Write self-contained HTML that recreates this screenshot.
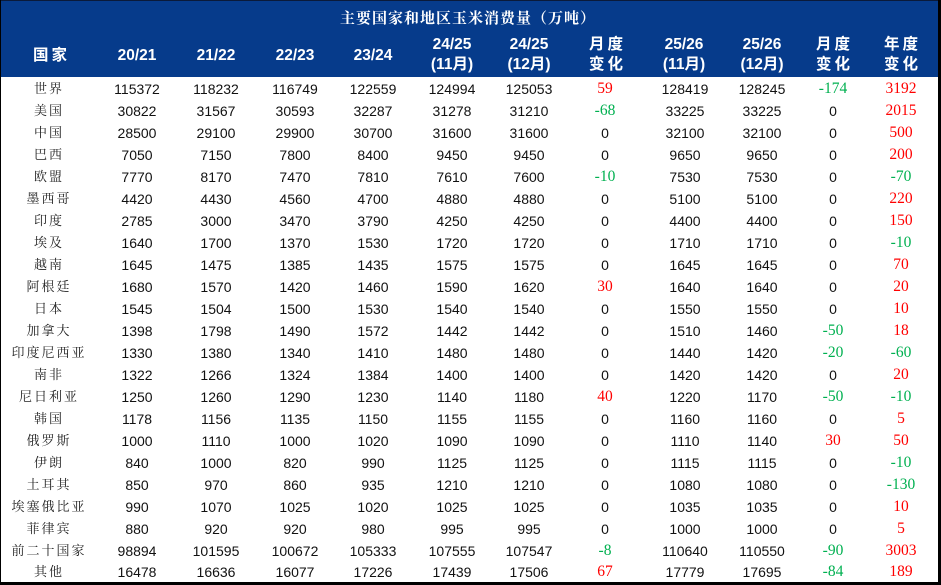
<!DOCTYPE html>
<html>
<head>
<meta charset="utf-8">
<style>
html,body{margin:0;padding:0;background:#fff;}
#wrap{position:relative;width:941px;height:585px;overflow:hidden;background:#fff;}
#hdr{position:absolute;left:0;top:0;width:941px;height:77px;background:#063b8b;}
#bl{position:absolute;left:0;top:0;width:1px;height:585px;background:#000;}
#bt{position:absolute;left:0;top:0;width:941px;height:1px;background:#0a1a3a;}
#br{position:absolute;left:938px;top:0;width:3px;height:585px;background:#000;}
#bb{position:absolute;left:0;top:582px;width:941px;height:3px;background:#000;}
.title{position:absolute;left:0;top:8px;width:936px;text-align:center;color:#fff;font-family:"Liberation Serif","Noto Serif CJK SC",serif;font-weight:bold;font-size:15px;line-height:22px;letter-spacing:1px;}
.h{position:absolute;color:#fff;font-family:"Liberation Sans","Noto Sans CJK SC",sans-serif;font-weight:bold;font-size:15.5px;text-align:center;width:90px;line-height:20px;}
.h1{top:46px;}
.h2{top:35px;}
.hz{letter-spacing:3px;padding-left:3px;box-sizing:border-box;}
.r{position:absolute;left:0;width:941px;height:22px;}
.r span{position:absolute;top:0;width:90px;text-align:center;line-height:22px;font-family:"Liberation Sans",sans-serif;font-size:14px;color:#111;}
.r span.n{font-family:"Liberation Serif","Noto Serif CJK SC",serif;font-size:13px;letter-spacing:2px;padding-left:2px;box-sizing:border-box;color:#222;width:100px;}
.r span.red{color:#ff0000;font-family:"Liberation Serif",serif;font-size:15.5px;}
.r span.grn{color:#00b050;font-family:"Liberation Serif",serif;font-size:15.5px;}
.c0{left:-2px;}
.c1{left:92px;}
.c2{left:171px;}
.c3{left:250px;}
.c4{left:328px;}
.c5{left:407px;}
.c6{left:484px;}
.c7{left:560px;}
.c8{left:640px;}
.c9{left:717px;}
.c10{left:788px;}
.c11{left:856px;}
</style>
</head>
<body>
<div id="wrap">
<div id="hdr"></div>
<div class="title">主要国家和地区玉米消费量（万吨）</div>
<div class="h h1 hz" style="left:5px;">国家</div>
<div class="h h1" style="left:92px;">20/21</div>
<div class="h h1" style="left:171px;">21/22</div>
<div class="h h1" style="left:250px;">22/23</div>
<div class="h h1" style="left:328px;">23/24</div>
<div class="h h2" style="left:407px;">24/25<br>(11月)</div>
<div class="h h2" style="left:484px;">24/25<br>(12月)</div>
<div class="h h2 hz" style="left:561px;">月度<br>变化</div>
<div class="h h2" style="left:639px;">25/26<br>(11月)</div>
<div class="h h2" style="left:717px;">25/26<br>(12月)</div>
<div class="h h2 hz" style="left:788px;">月度<br>变化</div>
<div class="h h2 hz" style="left:856px;">年度<br>变化</div>

<div class="r" style="top:78px;"><span class="n c0">世界</span><span class="c1">115372</span><span class="c2">118232</span><span class="c3">116749</span><span class="c4">122559</span><span class="c5">124994</span><span class="c6">125053</span><span class="c7 red">59</span><span class="c8">128419</span><span class="c9">128245</span><span class="c10 grn">-174</span><span class="c11 red">3192</span></div>
<div class="r" style="top:100px;"><span class="n c0">美国</span><span class="c1">30822</span><span class="c2">31567</span><span class="c3">30593</span><span class="c4">32287</span><span class="c5">31278</span><span class="c6">31210</span><span class="c7 grn">-68</span><span class="c8">33225</span><span class="c9">33225</span><span class="c10">0</span><span class="c11 red">2015</span></div>
<div class="r" style="top:122px;"><span class="n c0">中国</span><span class="c1">28500</span><span class="c2">29100</span><span class="c3">29900</span><span class="c4">30700</span><span class="c5">31600</span><span class="c6">31600</span><span class="c7">0</span><span class="c8">32100</span><span class="c9">32100</span><span class="c10">0</span><span class="c11 red">500</span></div>
<div class="r" style="top:144px;"><span class="n c0">巴西</span><span class="c1">7050</span><span class="c2">7150</span><span class="c3">7800</span><span class="c4">8400</span><span class="c5">9450</span><span class="c6">9450</span><span class="c7">0</span><span class="c8">9650</span><span class="c9">9650</span><span class="c10">0</span><span class="c11 red">200</span></div>
<div class="r" style="top:166px;"><span class="n c0">欧盟</span><span class="c1">7770</span><span class="c2">8170</span><span class="c3">7470</span><span class="c4">7810</span><span class="c5">7610</span><span class="c6">7600</span><span class="c7 grn">-10</span><span class="c8">7530</span><span class="c9">7530</span><span class="c10">0</span><span class="c11 grn">-70</span></div>
<div class="r" style="top:188px;"><span class="n c0">墨西哥</span><span class="c1">4420</span><span class="c2">4430</span><span class="c3">4560</span><span class="c4">4700</span><span class="c5">4880</span><span class="c6">4880</span><span class="c7">0</span><span class="c8">5100</span><span class="c9">5100</span><span class="c10">0</span><span class="c11 red">220</span></div>
<div class="r" style="top:210px;"><span class="n c0">印度</span><span class="c1">2785</span><span class="c2">3000</span><span class="c3">3470</span><span class="c4">3790</span><span class="c5">4250</span><span class="c6">4250</span><span class="c7">0</span><span class="c8">4400</span><span class="c9">4400</span><span class="c10">0</span><span class="c11 red">150</span></div>
<div class="r" style="top:232px;"><span class="n c0">埃及</span><span class="c1">1640</span><span class="c2">1700</span><span class="c3">1370</span><span class="c4">1530</span><span class="c5">1720</span><span class="c6">1720</span><span class="c7">0</span><span class="c8">1710</span><span class="c9">1710</span><span class="c10">0</span><span class="c11 grn">-10</span></div>
<div class="r" style="top:254px;"><span class="n c0">越南</span><span class="c1">1645</span><span class="c2">1475</span><span class="c3">1385</span><span class="c4">1435</span><span class="c5">1575</span><span class="c6">1575</span><span class="c7">0</span><span class="c8">1645</span><span class="c9">1645</span><span class="c10">0</span><span class="c11 red">70</span></div>
<div class="r" style="top:276px;"><span class="n c0">阿根廷</span><span class="c1">1680</span><span class="c2">1570</span><span class="c3">1420</span><span class="c4">1460</span><span class="c5">1590</span><span class="c6">1620</span><span class="c7 red">30</span><span class="c8">1640</span><span class="c9">1640</span><span class="c10">0</span><span class="c11 red">20</span></div>
<div class="r" style="top:298px;"><span class="n c0">日本</span><span class="c1">1545</span><span class="c2">1504</span><span class="c3">1500</span><span class="c4">1530</span><span class="c5">1540</span><span class="c6">1540</span><span class="c7">0</span><span class="c8">1550</span><span class="c9">1550</span><span class="c10">0</span><span class="c11 red">10</span></div>
<div class="r" style="top:320px;"><span class="n c0">加拿大</span><span class="c1">1398</span><span class="c2">1798</span><span class="c3">1490</span><span class="c4">1572</span><span class="c5">1442</span><span class="c6">1442</span><span class="c7">0</span><span class="c8">1510</span><span class="c9">1460</span><span class="c10 grn">-50</span><span class="c11 red">18</span></div>
<div class="r" style="top:342px;"><span class="n c0">印度尼西亚</span><span class="c1">1330</span><span class="c2">1380</span><span class="c3">1340</span><span class="c4">1410</span><span class="c5">1480</span><span class="c6">1480</span><span class="c7">0</span><span class="c8">1440</span><span class="c9">1420</span><span class="c10 grn">-20</span><span class="c11 grn">-60</span></div>
<div class="r" style="top:364px;"><span class="n c0">南非</span><span class="c1">1322</span><span class="c2">1266</span><span class="c3">1324</span><span class="c4">1384</span><span class="c5">1400</span><span class="c6">1400</span><span class="c7">0</span><span class="c8">1420</span><span class="c9">1420</span><span class="c10">0</span><span class="c11 red">20</span></div>
<div class="r" style="top:386px;"><span class="n c0">尼日利亚</span><span class="c1">1250</span><span class="c2">1260</span><span class="c3">1290</span><span class="c4">1230</span><span class="c5">1140</span><span class="c6">1180</span><span class="c7 red">40</span><span class="c8">1220</span><span class="c9">1170</span><span class="c10 grn">-50</span><span class="c11 grn">-10</span></div>
<div class="r" style="top:408px;"><span class="n c0">韩国</span><span class="c1">1178</span><span class="c2">1156</span><span class="c3">1135</span><span class="c4">1150</span><span class="c5">1155</span><span class="c6">1155</span><span class="c7">0</span><span class="c8">1160</span><span class="c9">1160</span><span class="c10">0</span><span class="c11 red">5</span></div>
<div class="r" style="top:430px;"><span class="n c0">俄罗斯</span><span class="c1">1000</span><span class="c2">1110</span><span class="c3">1000</span><span class="c4">1020</span><span class="c5">1090</span><span class="c6">1090</span><span class="c7">0</span><span class="c8">1110</span><span class="c9">1140</span><span class="c10 red">30</span><span class="c11 red">50</span></div>
<div class="r" style="top:452px;"><span class="n c0">伊朗</span><span class="c1">840</span><span class="c2">1000</span><span class="c3">820</span><span class="c4">990</span><span class="c5">1125</span><span class="c6">1125</span><span class="c7">0</span><span class="c8">1115</span><span class="c9">1115</span><span class="c10">0</span><span class="c11 grn">-10</span></div>
<div class="r" style="top:474px;"><span class="n c0">土耳其</span><span class="c1">850</span><span class="c2">970</span><span class="c3">860</span><span class="c4">935</span><span class="c5">1210</span><span class="c6">1210</span><span class="c7">0</span><span class="c8">1080</span><span class="c9">1080</span><span class="c10">0</span><span class="c11 grn">-130</span></div>
<div class="r" style="top:496px;"><span class="n c0">埃塞俄比亚</span><span class="c1">990</span><span class="c2">1070</span><span class="c3">1025</span><span class="c4">1020</span><span class="c5">1025</span><span class="c6">1025</span><span class="c7">0</span><span class="c8">1035</span><span class="c9">1035</span><span class="c10">0</span><span class="c11 red">10</span></div>
<div class="r" style="top:518px;"><span class="n c0">菲律宾</span><span class="c1">880</span><span class="c2">920</span><span class="c3">920</span><span class="c4">980</span><span class="c5">995</span><span class="c6">995</span><span class="c7">0</span><span class="c8">1000</span><span class="c9">1000</span><span class="c10">0</span><span class="c11 red">5</span></div>
<div class="r" style="top:540px;"><span class="n c0">前二十国家</span><span class="c1">98894</span><span class="c2">101595</span><span class="c3">100672</span><span class="c4">105333</span><span class="c5">107555</span><span class="c6">107547</span><span class="c7 grn">-8</span><span class="c8">110640</span><span class="c9">110550</span><span class="c10 grn">-90</span><span class="c11 red">3003</span></div>
<div class="r" style="top:561px;"><span class="n c0">其他</span><span class="c1">16478</span><span class="c2">16636</span><span class="c3">16077</span><span class="c4">17226</span><span class="c5">17439</span><span class="c6">17506</span><span class="c7 red">67</span><span class="c8">17779</span><span class="c9">17695</span><span class="c10 grn">-84</span><span class="c11 red">189</span></div>

<div id="bt"></div>
<div id="bl"></div>
<div id="br"></div>
<div id="bb"></div>
</div>
</body>
</html>
